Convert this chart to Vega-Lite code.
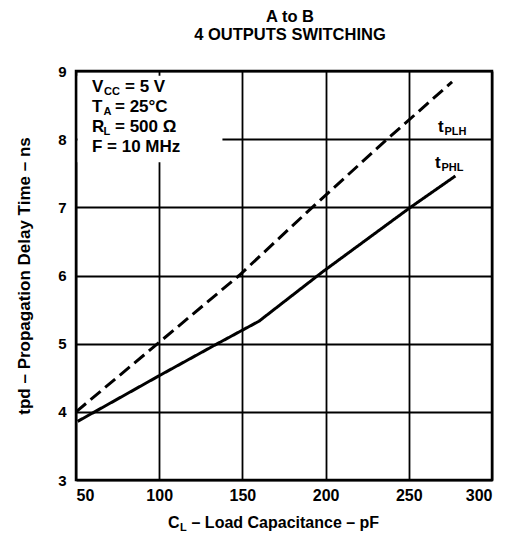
{
  "$schema": "https://vega.github.io/schema/vega-lite/v6.json",
  "width": 416,
  "height": 409,
  "autosize": {"type": "none"},
  "padding": {"left": 76, "top": 71, "right": 24, "bottom": 69},
  "background": "white",
  "config": {
    "font": "Liberation Sans",
    "view": {"stroke": "black", "strokeWidth": 2.5},
    "axis": {
      "grid": true, "gridColor": "black", "gridWidth": 1.8, "gridOpacity": 1,
      "domain": false, "ticks": false,
      "labelFont": "Liberation Sans", "labelFontWeight": "bold", "labelColor": "black", "labelFontSize": 16,
      "titleFont": "Liberation Sans", "titleFontWeight": "bold", "titleColor": "black", "titleFontSize": 17
    },
    "text": {"font": "Liberation Sans", "fontWeight": "bold", "color": "black", "align": "left", "baseline": "alphabetic"}
  },
  "title": {
    "text": ["A to B", "4 OUTPUTS SWITCHING"],
    "font": "Liberation Sans", "fontWeight": "bold", "fontSize": 16.5, "color": "black",
    "lineHeight": 18, "offset": 21, "dx": 6, "anchor": "middle"
  },
  "data": {
    "values": [
      {"series": "tPLH", "cl": 50, "tpd": 4.0},
      {"series": "tPLH", "cl": 100, "tpd": 5.02},
      {"series": "tPLH", "cl": 148, "tpd": 6.0},
      {"series": "tPLH", "cl": 192, "tpd": 7.0},
      {"series": "tPLH", "cl": 237, "tpd": 8.0},
      {"series": "tPLH", "cl": 276, "tpd": 8.84},
      {"series": "tPHL", "cl": 51, "tpd": 3.86},
      {"series": "tPHL", "cl": 100, "tpd": 4.53},
      {"series": "tPHL", "cl": 135, "tpd": 5.0},
      {"series": "tPHL", "cl": 160, "tpd": 5.33},
      {"series": "tPHL", "cl": 198, "tpd": 6.05},
      {"series": "tPHL", "cl": 251, "tpd": 7.0},
      {"series": "tPHL", "cl": 278, "tpd": 7.46}
    ]
  },
  "layer": [
    {
      "data": {"values": [{}]},
      "mark": {"type": "rect", "color": "white"},
      "encoding": {"x": {"datum": 51}, "x2": {"datum": 138}, "y": {"datum": 7.66}, "y2": {"datum": 8.93}}
    },
    {
      "mark": {"type": "line", "color": "black", "strokeWidth": 3, "strokeCap": "butt", "clip": true},
      "encoding": {
        "x": {"field": "cl", "type": "quantitative",
              "scale": {"domain": [50, 300], "nice": false, "zero": false},
              "axis": {"values": [50, 100, 150, 200, 250, 300], "format": "d", "title": null, "labelPadding": 7, "labelFontSize": 16}},
        "y": {"field": "tpd", "type": "quantitative",
              "scale": {"domain": [3, 9], "nice": false, "zero": false},
              "axis": {"values": [3, 4, 5, 6, 7, 8, 9], "format": "d", "title": "tpd – Propagation Delay Time – ns", "labelPadding": 10, "titlePadding": 24, "labelFontSize": 15}},
        "strokeDash": {"field": "series", "type": "nominal",
              "scale": {"domain": ["tPLH", "tPHL"], "range": [[13, 6], [1, 0]]}, "legend": null},
        "detail": {"field": "series"}
      }
    },
    {
      "data": {"values": [{"t": ["V", "T", "R", "F = 10 MHz"]}]},
      "mark": {"type": "text", "fontSize": 17, "lineHeight": 20},
      "encoding": {"x": {"datum": 59.6}, "y": {"datum": 8.69}, "text": {"field": "t"}}
    },
    {
      "data": {"values": [{"t": "CC"}]},
      "mark": {"type": "text", "fontSize": 11, "dx": 12, "dy": 3},
      "encoding": {"x": {"datum": 59.6}, "y": {"datum": 8.69}, "text": {"field": "t"}}
    },
    {
      "data": {"values": [{"t": ["A", "L"]}]},
      "mark": {"type": "text", "fontSize": 11, "dx": 11.5, "dy": 3, "lineHeight": 20},
      "encoding": {"x": {"datum": 59.6}, "y": {"datum": 8.40}, "text": {"field": "t"}}
    },
    {
      "data": {"values": [{"t": "= 5 V"}]},
      "mark": {"type": "text", "fontSize": 17, "dx": 33},
      "encoding": {"x": {"datum": 59.6}, "y": {"datum": 8.69}, "text": {"field": "t"}}
    },
    {
      "data": {"values": [{"t": ["= 25°C", "= 500 Ω"]}]},
      "mark": {"type": "text", "fontSize": 17, "dx": 23, "lineHeight": 20},
      "encoding": {"x": {"datum": 59.6}, "y": {"datum": 8.40}, "text": {"field": "t"}}
    },
    {
      "data": {"values": [{"t": "t"}]},
      "mark": {"type": "text", "fontSize": 17},
      "encoding": {"x": {"datum": 267.5}, "y": {"datum": 8.11}, "text": {"field": "t"}}
    },
    {
      "data": {"values": [{"t": "PLH"}]},
      "mark": {"type": "text", "fontSize": 11, "dx": 6.5, "dy": 3},
      "encoding": {"x": {"datum": 267.5}, "y": {"datum": 8.11}, "text": {"field": "t"}}
    },
    {
      "data": {"values": [{"t": "t"}]},
      "mark": {"type": "text", "fontSize": 17},
      "encoding": {"x": {"datum": 265.7}, "y": {"datum": 7.58}, "text": {"field": "t"}}
    },
    {
      "data": {"values": [{"t": "PHL"}]},
      "mark": {"type": "text", "fontSize": 11, "dx": 6.5, "dy": 3},
      "encoding": {"x": {"datum": 265.7}, "y": {"datum": 7.58}, "text": {"field": "t"}}
    },
    {
      "data": {"values": [{"t": "C"}]},
      "mark": {"type": "text", "fontSize": 16},
      "encoding": {"x": {"datum": 105.3}, "y": {"datum": 2.296}, "text": {"field": "t"}}
    },
    {
      "data": {"values": [{"t": "L"}]},
      "mark": {"type": "text", "fontSize": 11, "dx": 12, "dy": 3},
      "encoding": {"x": {"datum": 105.3}, "y": {"datum": 2.296}, "text": {"field": "t"}}
    },
    {
      "data": {"values": [{"t": "– Load Capacitance – pF"}]},
      "mark": {"type": "text", "fontSize": 16, "dx": 23.5},
      "encoding": {"x": {"datum": 105.3}, "y": {"datum": 2.296}, "text": {"field": "t"}}
    }
  ]
}
